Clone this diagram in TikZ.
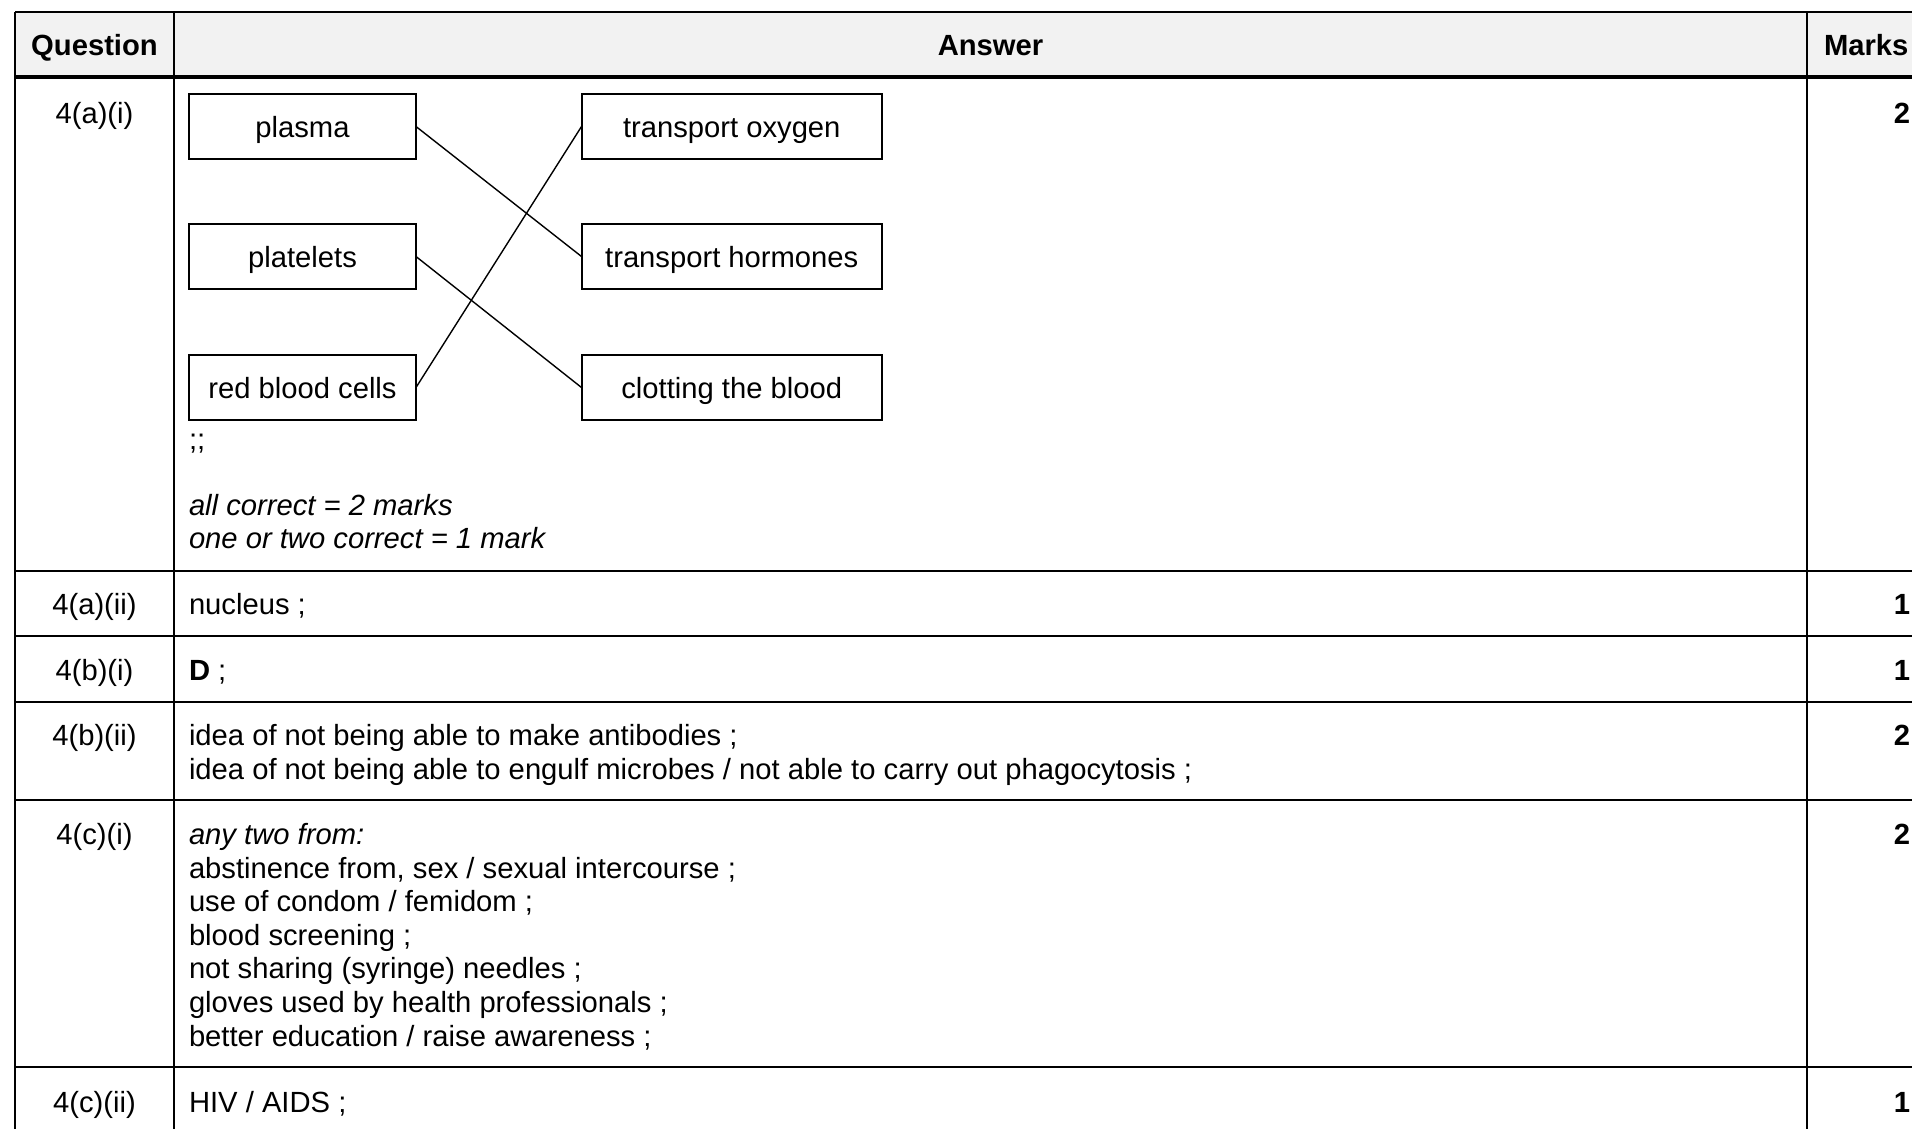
\documentclass[tikz,border=0pt]{standalone}
\usepackage{fontspec}
\setmainfont{Liberation Sans}
\definecolor{hdrgrey}{HTML}{F2F2F2}
\begin{document}
\begin{tikzpicture}[x=0.5pt,y=-0.5pt,
  every node/.style={inner sep=0pt,outer sep=0pt,font=\fontsize{14.6pt}{16.8pt}\selectfont},
  tline/.style={line width=1pt,black},
  hline/.style={line width=1.6pt,black},
  txt/.style={anchor=base west},
  itxt/.style={anchor=base west,font=\fontsize{14.6pt}{16.8pt}\selectfont\itshape},
  qlab/.style={anchor=base},
  hd/.style={anchor=base,font=\fontsize{14.6pt}{16.8pt}\selectfont\bfseries},
  mk/.style={anchor=base east,font=\fontsize{14.6pt}{16.8pt}\selectfont\bfseries},
  mbox/.style={draw,line width=1pt,minimum height=32.5pt,text height=12.6pt,text depth=1.7pt,align=center},
  lbox/.style={mbox,minimum width=113.5pt},
  rbox/.style={mbox,minimum width=150.25pt},
  conn/.style={line width=0.7pt,black}
]
\useasboundingbox (0,0) rectangle (1912,1129);
% header background
\fill[hdrgrey] (15,12) rectangle (1912,77);
% horizontal rules
\draw[tline] (15,12) -- (1912,12);
\draw[hline] (15,77) -- (1912,77);
\foreach \yy in {571,636,702,800,1067} \draw[tline] (15,\yy) -- (1912,\yy);
% vertical rules
\foreach \xx in {15,174,1807} \draw[tline] (\xx,12) -- (\xx,1129);

% header texts
\node[hd] (hq) at (94.5,56) {Question};
\node[hd] (ha) at (990.5,56) {Answer};
\node[hd,anchor=base west] (hm) at (1824,56) {Marks};

% question labels
\node[qlab] (q1) at (94.5,124) {4(a)(i)};
\node[qlab] (q2) at (94.5,614.5) {4(a)(ii)};
\node[qlab] (q3) at (94.5,680.5) {4(b)(i)};
\node[qlab] (q4) at (94.5,745.5) {4(b)(ii)};
\node[qlab] (q5) at (94.5,844.5) {4(c)(i)};
\node[qlab] (q6) at (94.5,1112) {4(c)(ii)};

% marks
\node[mk] (m1) at (1910,123.5) {2};
\node[mk] (m2) at (1910,614.5) {1};
\node[mk] (m3) at (1910,680.5) {1};
\node[mk] (m4) at (1910,745.5) {2};
\node[mk] (m5) at (1910,844.5) {2};
\node[mk] (m6) at (1910,1112) {1};

% matching boxes
\node[lbox] (plasma) at (302.5,126.5) {plasma};
\node[lbox] (platelets) at (302.5,256.5) {platelets};
\node[lbox] (rbc) at (302.5,387.5) {red blood cells};
\node[rbox] (oxygen) at (731.75,126.5) {transport oxygen};
\node[rbox] (hormones) at (731.75,256.5) {transport hormones};
\node[rbox] (clotting) at (731.75,387.5) {clotting the blood};
\draw[conn] (plasma.east) -- (hormones.west);
\draw[conn] (platelets.east) -- (clotting.west);
\draw[conn] (rbc.east) -- (oxygen.west);

% answers
\node[txt] (a1a) at (189,449.5) {;;};
\node[itxt] (a1b) at (189,515) {all correct = 2 marks};
\node[itxt] (a1c) at (189,548.5) {one or two correct = 1 mark};
\node[txt] (a2) at (189,614.5) {nucleus ;};
\node[txt] (a3) at (189,680.5) {\textbf{D} ;};
\node[txt] (a4a) at (189,745.5) {idea of not being able to make antibodies ;};
\node[txt] (a4b) at (189,779.1) {idea of not being able to engulf microbes / not able to carry out phagocytosis ;};
\node[itxt] (a5a) at (189,844.5) {any two from:};
\node[txt] (a5b) at (189,878.1) {abstinence from, sex / sexual intercourse ;};
\node[txt] (a5c) at (189,911.7) {use of condom / femidom ;};
\node[txt] (a5d) at (189,945.3) {blood screening ;};
\node[txt] (a5e) at (189,978.9) {not sharing (syringe) needles ;};
\node[txt] (a5f) at (189,1012.5) {gloves used by health professionals ;};
\node[txt] (a5g) at (189,1046.1) {better education / raise awareness ;};
\node[txt] (a6) at (189,1112) {HIV / AIDS ;};
\end{tikzpicture}
\end{document}
